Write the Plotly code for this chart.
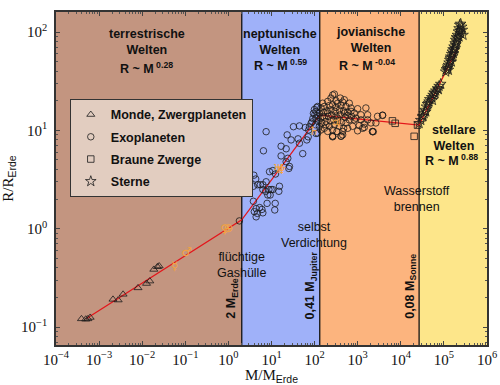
import plotly.graph_objects as go
import numpy as np

# ---------------- data ----------------
moon_mass = [3.9e-4, 4.9e-4, 5.5e-4, 6.2e-4, 0.0021, 0.00277, 0.0036, 0.0080,
             0.0126, 0.015, 0.0186, 0.0226, 0.0247]
moon_radius = [0.121, 0.120, 0.121, 0.125, 0.191, 0.188, 0.215, 0.250,
               0.277, 0.293, 0.385, 0.410, 0.417]

exo_mass = [
    # neptunian region
    1.8, 7.5, 6.5, 3.9, 4.3, 3.8, 4.8, 5.5, 6.3, 7.5, 6.3, 7.3, 8.7, 9.8, 10.7,
    8.2, 9.3, 3.8, 4.4, 5.3, 4.0, 4.7, 6.0, 6.3, 4.4, 7.9, 12.2, 11.9, 14.8, 15.3,
    9.0, 10.7, 12.4, 16.7, 21.9, 16.7, 21.9, 26.1, 25.2, 23.9, 23.1, 28.5, 32.3,
    44.5, 41.4, 44.5, 53, 66, 71, 76, 73, 61, 87, 91, 94, 99, 112, 83, 108, 114,
    101, 104,
    # jovian region
    287, 395, 489, 638, 343, 201, 154, 118, 995, 1550, 834, 1190, 1700, 2890,
    3780, 2640, 2030, 1420, 1090, 762, 585, 995, 1420, 2210, 262, 410, 201, 141,
    118, 184, 108, 108,
    141, 168, 220, 262, 314, 410, 535, 698, 129, 163, 194, 240, 297, 375, 472,
    585, 723, 136, 168, 208, 249, 314, 395, 507, 638, 146, 184, 232, 277, 343,
    425, 535, 287, 375, 220, 472, 834, 314, 448, 240, 698, 912, 1190, 1700, 585,
    168, 129, 262, 331, 448, 122, 154, 201, 343, 489,
    263, 2300, 1300, 448, 263, 3780, 2210, 262, 412,
]
exo_radius = [
    1.2, 9.7, 6.2, 3.5, 3.2, 2.7, 2.8, 2.8, 2.8, 3.0, 2.5, 2.4, 2.5, 2.5, 2.5,
    2.2, 2.2, 1.9, 1.6, 1.64, 1.49, 1.43, 1.57, 1.45, 1.32, 1.81, 1.81, 1.55, 2.4,
    2.7, 3.8, 3.9, 3.6, 6.9, 6.5, 5.5, 4.8, 4.3, 4.1, 5.2, 9.0, 8.0, 10.9, 11.1,
    8.2, 7.4, 5.8, 8.0, 8.6, 10.9, 10.1, 10.7, 12.2, 13.2, 14.9, 16.3, 17.1, 11.8,
    9.3, 14.1, 14.4, 11.4,
    23.4, 21.3, 20.5, 18.9, 18.9, 19.7, 18.9, 17.5, 16.6, 16.9, 15.0, 14.4, 14.4,
    13.9, 14.2, 11.9, 11.9, 11.6, 11.2, 11.0, 10.5, 9.9, 10.7, 9.75, 8.7, 8.7,
    9.75, 10.1, 9.4, 11.4, 13.3, 15.6,
    16.9, 17.5, 17.9, 18.2, 17.1, 17.9, 17.5, 16.9, 15.0, 15.3, 15.8, 16.2, 15.6,
    16.1, 15.8, 15.3, 13.9, 13.3, 13.6, 13.9, 14.4, 14.0, 14.4, 13.6, 12.8, 11.9,
    12.3, 12.5, 12.8, 12.5, 12.1, 11.9, 11.4, 11.0, 11.0, 10.5, 12.8, 20.0, 19.4,
    21.3, 15.6, 13.3, 12.8, 12.8, 14.2, 10.5, 11.0, 10.1, 9.75, 9.75, 12.3, 13.9,
    15.0, 13.3, 15.0,
    22.9, 9.7, 10.5, 9.0, 8.6, 14.3, 9.7, 8.75, 8.75,
]

bd_mass = [6400, 7400, 24400, 20400]
bd_radius = [12.5, 11.8, 11.3, 8.7]

star_mass = [26600, 29100, 31800, 34800, 36700, 39400, 41500, 45400, 47000,
             52300, 56200, 59300, 64800, 70800, 77300, 84500, 54200, 38000,
             33000, 43800, 62500, 74600,
             110000, 121000, 127000, 132000, 137000, 144000, 152000, 157000,
             163000, 172000, 182000, 188000, 195000, 206000, 217000, 225000,
             233000, 245000, 259000, 268000, 114000, 123000, 141000, 149000,
             166000, 175000, 188000, 198000, 209000, 225000, 245000, 127000,
             157000, 182000, 278000, 237000]
star_radius = [11.8, 12.7, 13.8, 14.9, 16.1, 17.4, 18.5, 19.6, 20.7, 21.7,
               22.9, 24.2, 25.3, 26.7, 28.2, 29.6, 20.3, 15.5, 14.0, 18.8, 23.8,
               26.1,
               39.5, 42.8, 46.2, 48.8, 51.9, 56.1, 59.7, 63.1, 66.6, 71.0, 76.7,
               83.0, 88.3, 93.3, 101, 109, 118, 121, 113, 105, 41.7, 44.5, 53.9,
               49.9, 60.7, 65.6, 73.8, 79.8, 86.3, 89.7, 97.0, 41.1, 56.1, 68.2,
               93.3, 103]

sol_symbols = ["\u263F", "\u2642", "\u2640", "\u2295", "\u2645", "\u2646", "\u2644", "\u2643"]
sol_mass = [0.057, 0.107, 0.82, 1.0, 14.5, 17.1, 97, 318]
sol_radius = [0.41, 0.56, 0.98, 1.0, 4.0, 3.9, 9.6, 11.5]

fit_mass = [5.1e-4, 2.04, 131.6, 26600, 2.0e5]
fit_radius = [0.122, 1.23, 14.3, 11.3, 66.8]

region_edges = [1e-4, 2.04, 131.6, 26600, 1e6]
region_colors = ["#c39580", "#9fb1f9", "#fcb47e", "#fde68a"]

xtick_vals = [10.0 ** e for e in range(-4, 7)]
xtick_text = ["10<sup>\u2212%d</sup>" % -e if e < 0 else "10<sup>%d</sup>" % e for e in range(-4, 7)]
ytick_vals = [0.1, 1, 10, 100]
ytick_text = ["10<sup>\u22121</sup>", "10<sup>0</sup>", "10<sup>1</sup>", "10<sup>2</sup>"]

SANS = "Liberation Sans, Arial, sans-serif"
SERIF = "Liberation Serif, DejaVu Serif, serif"
ORANGE = "#f4a340"

# ---------------- figure ----------------
fig = go.Figure()

for i, c in enumerate(region_colors):
    fig.add_shape(type="rect", xref="x", yref="paper",
                  x0=region_edges[i], x1=region_edges[i + 1], y0=0, y1=1,
                  fillcolor=c, line_width=0, layer="below")
for e in region_edges[1:-1]:
    fig.add_shape(type="line", xref="x", yref="paper", x0=e, x1=e, y0=0, y1=1,
                  line=dict(color="#111", width=1.3), layer="below")

fig.add_trace(go.Scatter(x=fit_mass, y=fit_radius, mode="lines",
                         line=dict(color="#e3161b", width=1.3), showlegend=False,
                         hoverinfo="skip"))

mk_line = dict(color="#1a1a1a", width=0.8)
fig.add_trace(go.Scatter(x=moon_mass, y=moon_radius, mode="markers",
                         name="Monde, Zwergplaneten", legendgroup="a",
                         marker=dict(symbol="triangle-up-open", size=7, color="#1a1a1a", line=mk_line)))
fig.add_trace(go.Scatter(x=exo_mass, y=exo_radius, mode="markers",
                         name="Exoplaneten", legendgroup="b",
                         marker=dict(symbol="circle-open", size=6.5, color="#1a1a1a", line=mk_line)))
fig.add_trace(go.Scatter(x=bd_mass, y=bd_radius, mode="markers",
                         name="Braune Zwerge", legendgroup="c",
                         marker=dict(symbol="square-open", size=6.5, color="#1a1a1a", line=mk_line)))
fig.add_trace(go.Scatter(x=star_mass, y=star_radius, mode="markers",
                         name="Sterne", legendgroup="d",
                         marker=dict(symbol="star-open", size=8, color="#1a1a1a", line=mk_line)))
fig.add_trace(go.Scatter(x=sol_mass, y=sol_radius, mode="text", text=sol_symbols,
                         textfont=dict(color=ORANGE, size=12, family="DejaVu Sans"),
                         showlegend=False, hoverinfo="skip"))

def ann(lx, ly, text, bold=True, yanchor="top", xanchor="center", angle=0, size=12.5):
    t = "<b>%s</b>" % text if bold else text
    fig.add_annotation(x=lx, y=ly, xref="x", yref="y", text=t,
                       showarrow=False, xanchor=xanchor, yanchor=yanchor, textangle=angle,
                       font=dict(family=SANS, size=size, color="#111"), align="center")

ann(-1.894, 2.071, "terrestrische<br>Welten")
ann(-1.894, 1.634, "R ~ M<sup> 0.28</sup>", yanchor="middle")
ann(1.208, 2.071, "neptunische<br>Welten")
ann(1.215, 1.664, "R ~ M<sup> 0.59</sup>", yanchor="middle")
ann(3.292, 2.092, "jovianische<br>Welten")
ann(3.222, 1.664, "R ~ M<sup> -0.04</sup>", yanchor="middle")
ann(5.236, 1.095, "stellare<br>Welten")
ann(5.167, 0.698, "R ~ M<sup> 0.88</sup>", yanchor="middle")
ann(4.38, 0.474, "Wasserstoff<br>brennen", bold=False)
ann(1.995, 0.108, "selbst<br>Verdichtung", bold=False)
ann(0.306, -0.197, "flüchtige<br>Gashülle", bold=False)
ann(0.097, -0.94, "2 M<sub>Erde</sub>", yanchor="bottom", angle=-90)
ann(1.926, -0.94, "0,41 M<sub>Jupiter</sub>", yanchor="bottom", angle=-90)
ann(4.218, -0.94, "0,08 M<sub>Sonne</sub>", yanchor="bottom", angle=-90)

axis_common = dict(type="log", showgrid=False, zeroline=False, showline=True,
                   linecolor="#333", linewidth=1.5, mirror="ticks", automargin=False,
                   ticks="inside", ticklen=4, tickcolor="#444", tickwidth=1,
                   tickfont=dict(family=SERIF, size=15, color="#111"),
                   minor=dict(ticks="inside", ticklen=2, tickcolor="#555", dtick="D1"))

fig.update_xaxes(**axis_common, range=[-4, 6], tickmode="array",
                 tickvals=xtick_vals, ticktext=xtick_text,
                 title=dict(text="M/M<sub><span style='font-family:Liberation Sans'>Erde</span></sub>",
                            font=dict(family=SERIF, size=15, color="#111")))
fig.update_yaxes(**axis_common, range=[np.log10(0.0656), np.log10(160)], tickmode="array",
                 tickvals=ytick_vals, ticktext=ytick_text, ticklabelstandoff=4,
                 title=dict(text="R/R<sub><span style='font-family:Liberation Sans'>Erde</span></sub>",
                            font=dict(family=SERIF, size=15, color="#111")))

fig.update_layout(
    width=500, height=385,
    margin=dict(l=56, r=13, t=12, b=40),
    paper_bgcolor="white", plot_bgcolor="white",
    showlegend=True,
    legend=dict(x=0.032, y=0.739, xanchor="left", yanchor="top",
                bgcolor="#e2cdc0", bordercolor="#333", borderwidth=1,
                font=dict(family=SANS, size=12.5, color="#111", weight="bold"),
                tracegroupgap=3, itemwidth=30),
)

fig.write_html("out.html", config={"displayModeBar": False},
               post_script="document.body.style.margin='0';")
